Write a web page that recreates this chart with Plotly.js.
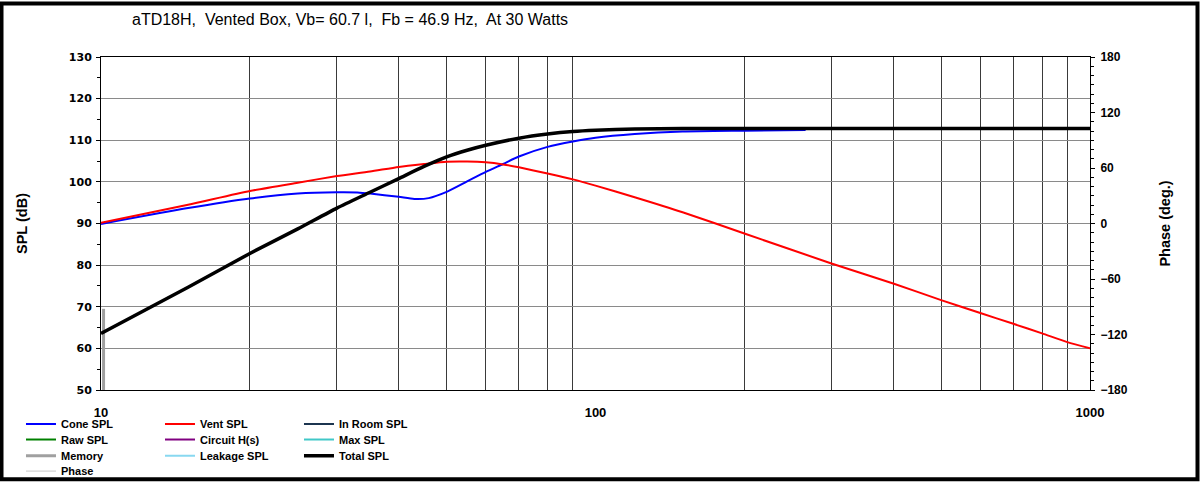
<!DOCTYPE html>
<html>
<head>
<meta charset="utf-8">
<script src="https://cdn.plot.ly/plotly-3.0.1.min.js"></script>
<style>
  html, body { margin: 0; padding: 0; background: #fff; overflow: hidden; }
  #myDiv { width: 1200px; height: 497px; }
</style>
</head>
<body>
<div id="myDiv"></div>
<script>
//  ======== DATA ========
var coneFreq = [10, 15, 20, 25, 30, 33, 35, 40, 43, 46, 50, 55, 60, 65, 70, 80, 90, 100, 120, 150, 200, 266];
var coneSpl  = [89.9, 93.7, 96.0, 97.2, 97.5, 97.45, 97.2, 96.4, 95.9, 96.1, 97.6, 100.1, 102.4, 104.3, 106.1, 108.4, 109.7, 110.6, 111.5, 112.1, 112.3, 112.45];

var ventFreq = [10, 15, 20, 25, 30, 35, 40, 45, 50, 55, 60, 65, 70, 80, 90, 100, 120, 150, 200, 300, 400, 500, 600, 700, 800, 900, 1000];
var ventSpl  = [90.15, 94.5, 97.8, 99.8, 101.4, 102.5, 103.6, 104.3, 104.85, 104.9, 104.7, 104.2, 103.5, 102.0, 100.6, 99.1, 96.3, 92.7, 87.6, 80.4, 75.6, 71.6, 68.5, 65.9, 63.6, 61.5, 60.0];

var totalFreq = [10, 15, 20, 25, 30, 35, 40, 45, 50, 55, 60, 70, 80, 90, 100, 120, 150, 200, 1000];
var totalSpl  = [63.6, 74.7, 82.8, 88.7, 93.7, 97.5, 100.8, 103.7, 106.0, 107.6, 108.8, 110.5, 111.5, 112.1, 112.4, 112.7, 112.8, 112.8, 112.8];

var memoryFreq = [10.12, 10.12];
var memorySpl  = [69.5, 50];

var freqTicks = [10, 100, 1000];
var freqMinor = [20, 30, 40, 50, 60, 70, 80, 90, 200, 300, 400, 500, 600, 700, 800, 900];

//  ======== STYLE ========
var FONT = 'Liberation Sans, Arial, sans-serif';
var WIDE = 'DejaVu Sans, Verdana, sans-serif';

function curve(name, x, y, color, width, legend, yaxis) {
  return {
    x: x,
    y: y,
    name: name,
    type: 'scatter',
    mode: 'lines',
    yaxis: yaxis || 'y',
    legend: legend,
    line: {color: color, width: width, shape: 'spline', smoothing: 0.6},
    hoverinfo: 'x+y+name'
  };
}

// series with nothing to plot still get a legend entry
var plotData = [
  curve('Cone SPL', coneFreq, coneSpl, '#0000ff', 2, 'legend'),
  curve('Vent SPL', ventFreq, ventSpl, '#ff0000', 2, 'legend'),
  curve('In Room SPL', [10], [null], '#1c3550', 2, 'legend'),
  curve('Raw SPL', [10], [null], '#008000', 2, 'legend2'),
  curve('Circuit H(s)', [10], [null], '#800080', 2, 'legend2'),
  curve('Max SPL', [10], [null], '#40c8c8', 2, 'legend2'),
  curve('Memory', memoryFreq, memorySpl, '#a0a0a0', 3, 'legend3'),
  curve('Leakage SPL', [10], [null], '#88d8f0', 2, 'legend3'),
  curve('Total SPL', totalFreq, totalSpl, '#000000', 3.5, 'legend3'),
  curve('Phase', [10], [null], '#c8c8c8', 1, 'legend4', 'y2')
];

// one horizontal legend per row so the three columns line up like the original
function legendRow(yPaper) {
  return {
    orientation: 'h',
    x: -0.0809,
    xanchor: 'left',
    y: yPaper,
    yanchor: 'middle',
    entrywidth: 94,
    entrywidthmode: 'pixels',
    bgcolor: 'rgba(0,0,0,0)',
    font: {family: FONT, size: 11, color: '#000', weight: 'bold'}
  };
}

var layout = {
  width: 1200,
  height: 497,
  margin: {l: 101, r: 110, t: 57, b: 95, pad: 0},
  paper_bgcolor: '#ffffff',
  plot_bgcolor: '#ffffff',
  font: {family: FONT, size: 13, color: '#000'},
  title: {
    text: 'aTD18H,  Vented Box, Vb= 60.7 l,  Fb = 46.9 Hz,  At 30 Watts',
    font: {family: FONT, size: 16, color: '#000'},
    xref: 'container', x: 0.2917, xanchor: 'center',
    yref: 'container', y: 0.96, yanchor: 'middle'
  },
  xaxis: {
    type: 'log',
    range: [1, 3],
    tickvals: freqTicks,
    ticktext: freqTicks.map(String),
    ticks: '',
    ticklabelstandoff: 10,
    tickfont: {family: FONT, size: 13, weight: 'bold'},
    showgrid: false,
    minor: {tickvals: freqMinor, showgrid: true, gridcolor: '#3a3a3a', gridwidth: 1, ticks: ''},
    showline: true, linecolor: '#000', linewidth: 1, mirror: true,
    zeroline: false, fixedrange: true
  },
  yaxis: {
    range: [50, 130],
    dtick: 10,
    ticks: 'outside', ticklen: 4, tickcolor: '#000',
    ticklabelstandoff: 2,
    minor: {dtick: 5, ticks: 'outside', ticklen: 3, tickcolor: '#000', showgrid: false},
    showgrid: true, gridcolor: '#8a8a8a', gridwidth: 1,
    tickfont: {family: WIDE, size: 11, weight: 'bold'},
    title: {text: 'SPL (dB)', font: {family: FONT, size: 14.5, weight: 'bold'}, standoff: 37},
    showline: true, linecolor: '#000', linewidth: 1,
    zeroline: false, fixedrange: true
  },
  yaxis2: {
    overlaying: 'y',
    side: 'right',
    range: [-180, 180],
    dtick: 60,
    ticks: 'outside', ticklen: 4, tickcolor: '#000',
    ticklabelstandoff: 3,
    minor: {dtick: 10, ticks: 'outside', ticklen: 3, tickcolor: '#000', showgrid: false},
    showgrid: false,
    tickfont: {family: FONT, size: 12, weight: 'bold'},
    title: {text: 'Phase (deg.)', font: {family: FONT, size: 14.5, weight: 'bold'}, standoff: 33},
    showline: true, linecolor: '#000', linewidth: 1,
    zeroline: false, fixedrange: true
  },
  legend: legendRow(-0.1023),
  legend2: legendRow(-0.1487),
  legend3: legendRow(-0.1971),
  legend4: legendRow(-0.2435),
  shapes: [{
    // heavy frame round the whole picture
    type: 'rect', xref: 'paper', yref: 'paper',
    x0: (1.5 - 101) / 989, x1: (1197.5 - 101) / 989,
    y0: (402 - 494.5) / 345, y1: (402 - 1.5) / 345,
    line: {color: '#000', width: 4}
  }]
};

var config = {displayModeBar: false, responsive: false};

Plotly.newPlot('myDiv', plotData, layout, config);
</script>
</body>
</html>
